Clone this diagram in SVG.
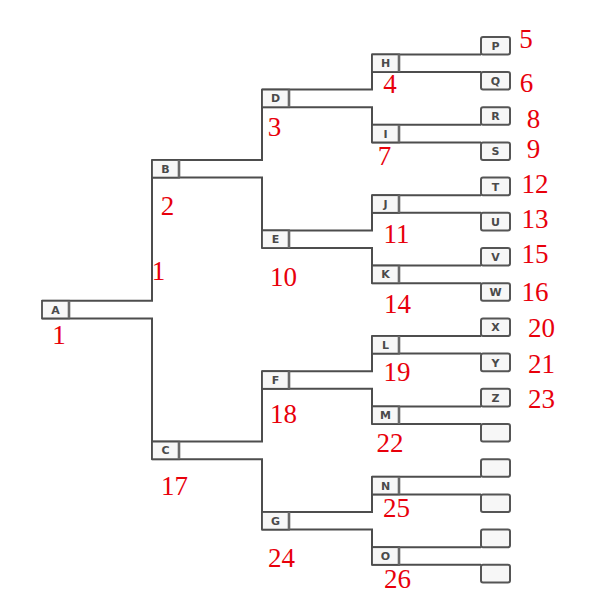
<svg xmlns="http://www.w3.org/2000/svg" width="614" height="613" viewBox="0 0 614 613">
<style>
.bg{fill:#ffffff}
.conn path{fill:none;stroke:#4d4d4d;stroke-width:2}
.box{fill:#f7f7f7;stroke:#4d4d4d;stroke-width:1.8}
.sep{stroke:#6a6a6a;stroke-width:2.6}
.leaf{fill:#f7f7f7;stroke:#555555;stroke-width:2}
.lbl{font-family:"DejaVu Sans",sans-serif;font-size:11px;font-weight:600;fill:#4a4a4a;text-anchor:middle}
.num{font-family:"Liberation Serif","Times New Roman",serif;font-size:27px;fill:#e8000b;text-anchor:middle}
</style>
<rect class="bg" x="0" y="0" width="614" height="613"/>
<g id="connectors" class="conn">
<path d="M42,300.8H152V160M42,318.4H152V459.2"/>
<path d="M152,160H262V89.6M152,177.6H262V248"/>
<path d="M152,441.6H262V371.2M152,459.2H262V529.6"/>
<path d="M262,89.6H372V54.4M262,107.2H372V142.4"/>
<path d="M262,230.4H372V195.2M262,248H372V283.2"/>
<path d="M262,371.2H372V336M262,388.8H372V424"/>
<path d="M262,512H372V476.8M262,529.6H372V564.8"/>
<path d="M372,54.4H481M372,72H481"/>
<path d="M372,124.8H481M372,142.4H481"/>
<path d="M372,195.2H481M372,212.8H481"/>
<path d="M372,265.6H481M372,283.2H481"/>
<path d="M372,336H481M372,353.6H481"/>
<path d="M372,406.4H481M372,424H481"/>
<path d="M372,476.8H481M372,494.4H481"/>
<path d="M372,547.2H481M372,564.8H481"/>
</g>
<g id="node-A"><rect class="box" x="42" y="300.8" width="27" height="17.6"/><line class="sep" x1="69" y1="300.8" x2="69" y2="318.4"/><text class="lbl" x="55.5" y="313.6">A</text></g>
<g id="node-B"><rect class="box" x="152" y="160" width="27" height="17.6"/><line class="sep" x1="179" y1="160" x2="179" y2="177.6"/><text class="lbl" x="165.5" y="172.8">B</text></g>
<g id="node-C"><rect class="box" x="152" y="441.6" width="27" height="17.6"/><line class="sep" x1="179" y1="441.6" x2="179" y2="459.2"/><text class="lbl" x="165.5" y="454.4">C</text></g>
<g id="node-D"><rect class="box" x="262" y="89.6" width="27" height="17.6"/><line class="sep" x1="289" y1="89.6" x2="289" y2="107.2"/><text class="lbl" x="275.5" y="102.4">D</text></g>
<g id="node-E"><rect class="box" x="262" y="230.4" width="27" height="17.6"/><line class="sep" x1="289" y1="230.4" x2="289" y2="248"/><text class="lbl" x="275.5" y="243.2">E</text></g>
<g id="node-F"><rect class="box" x="262" y="371.2" width="27" height="17.6"/><line class="sep" x1="289" y1="371.2" x2="289" y2="388.8"/><text class="lbl" x="275.5" y="384">F</text></g>
<g id="node-G"><rect class="box" x="262" y="512" width="27" height="17.6"/><line class="sep" x1="289" y1="512" x2="289" y2="529.6"/><text class="lbl" x="275.5" y="524.8">G</text></g>
<g id="node-H"><rect class="box" x="372" y="54.4" width="27" height="17.6"/><line class="sep" x1="399" y1="54.4" x2="399" y2="72"/><text class="lbl" x="385.5" y="67.2">H</text></g>
<g id="node-I"><rect class="box" x="372" y="124.8" width="27" height="17.6"/><line class="sep" x1="399" y1="124.8" x2="399" y2="142.4"/><text class="lbl" x="385.5" y="137.6">I</text></g>
<g id="node-J"><rect class="box" x="372" y="195.2" width="27" height="17.6"/><line class="sep" x1="399" y1="195.2" x2="399" y2="212.8"/><text class="lbl" x="385.5" y="208">J</text></g>
<g id="node-K"><rect class="box" x="372" y="265.6" width="27" height="17.6"/><line class="sep" x1="399" y1="265.6" x2="399" y2="283.2"/><text class="lbl" x="385.5" y="278.4">K</text></g>
<g id="node-L"><rect class="box" x="372" y="336" width="27" height="17.6"/><line class="sep" x1="399" y1="336" x2="399" y2="353.6"/><text class="lbl" x="385.5" y="348.8">L</text></g>
<g id="node-M"><rect class="box" x="372" y="406.4" width="27" height="17.6"/><line class="sep" x1="399" y1="406.4" x2="399" y2="424"/><text class="lbl" x="385.5" y="419.2">M</text></g>
<g id="node-N"><rect class="box" x="372" y="476.8" width="27" height="17.6"/><line class="sep" x1="399" y1="476.8" x2="399" y2="494.4"/><text class="lbl" x="385.5" y="489.6">N</text></g>
<g id="node-O"><rect class="box" x="372" y="547.2" width="27" height="17.6"/><line class="sep" x1="399" y1="547.2" x2="399" y2="564.8"/><text class="lbl" x="385.5" y="560">O</text></g>
<g id="leaf-P"><rect class="leaf" x="481" y="37" width="29" height="17.4" rx="2"/><text class="lbl" x="495.5" y="49.9">P</text></g>
<g id="leaf-Q"><rect class="leaf" x="481" y="72" width="29" height="17.6" rx="2"/><text class="lbl" x="495.5" y="85">Q</text></g>
<g id="leaf-R"><rect class="leaf" x="481" y="107.2" width="29" height="17.6" rx="2"/><text class="lbl" x="495.5" y="120.2">R</text></g>
<g id="leaf-S"><rect class="leaf" x="481" y="142.4" width="29" height="17.6" rx="2"/><text class="lbl" x="495.5" y="155.4">S</text></g>
<g id="leaf-T"><rect class="leaf" x="481" y="177.6" width="29" height="17.6" rx="2"/><text class="lbl" x="495.5" y="190.6">T</text></g>
<g id="leaf-U"><rect class="leaf" x="481" y="212.8" width="29" height="17.6" rx="2"/><text class="lbl" x="495.5" y="225.8">U</text></g>
<g id="leaf-V"><rect class="leaf" x="481" y="248" width="29" height="17.6" rx="2"/><text class="lbl" x="495.5" y="261">V</text></g>
<g id="leaf-W"><rect class="leaf" x="481" y="283.2" width="29" height="17.6" rx="2"/><text class="lbl" x="495.5" y="296.2">W</text></g>
<g id="leaf-X"><rect class="leaf" x="481" y="318.4" width="29" height="17.6" rx="2"/><text class="lbl" x="495.5" y="331.4">X</text></g>
<g id="leaf-Y"><rect class="leaf" x="481" y="353.6" width="29" height="17.6" rx="2"/><text class="lbl" x="495.5" y="366.6">Y</text></g>
<g id="leaf-Z"><rect class="leaf" x="481" y="388.8" width="29" height="17.6" rx="2"/><text class="lbl" x="495.5" y="401.8">Z</text></g>
<g id="leaf-12"><rect class="leaf" x="481" y="424" width="29" height="17.6" rx="2"/></g>
<g id="leaf-13"><rect class="leaf" x="481" y="459.2" width="29" height="17.6" rx="2"/></g>
<g id="leaf-14"><rect class="leaf" x="481" y="494.4" width="29" height="17.6" rx="2"/></g>
<g id="leaf-15"><rect class="leaf" x="481" y="529.6" width="29" height="17.6" rx="2"/></g>
<g id="leaf-16"><rect class="leaf" x="481" y="564.8" width="29" height="17.6" rx="2"/></g>
<g id="numbers">
<text class="num" x="59" y="344">1</text>
<text class="num" x="158.5" y="280">1</text>
<text class="num" x="167.5" y="215">2</text>
<text class="num" x="274.5" y="136">3</text>
<text class="num" x="390" y="93">4</text>
<text class="num" x="526" y="48">5</text>
<text class="num" x="526.5" y="92">6</text>
<text class="num" x="384.5" y="165">7</text>
<text class="num" x="533.5" y="128">8</text>
<text class="num" x="533.5" y="158">9</text>
<text class="num" x="283.5" y="286">10</text>
<text class="num" x="396.5" y="243">11</text>
<text class="num" x="535" y="193">12</text>
<text class="num" x="535" y="228">13</text>
<text class="num" x="397.5" y="313">14</text>
<text class="num" x="535" y="263">15</text>
<text class="num" x="535" y="301">16</text>
<text class="num" x="174.5" y="495">17</text>
<text class="num" x="283.5" y="423">18</text>
<text class="num" x="397" y="381">19</text>
<text class="num" x="541.5" y="337">20</text>
<text class="num" x="541.5" y="373">21</text>
<text class="num" x="390" y="452">22</text>
<text class="num" x="541.5" y="408">23</text>
<text class="num" x="281.5" y="567">24</text>
<text class="num" x="396.5" y="517">25</text>
<text class="num" x="397.5" y="588">26</text>
</g>
</svg>
